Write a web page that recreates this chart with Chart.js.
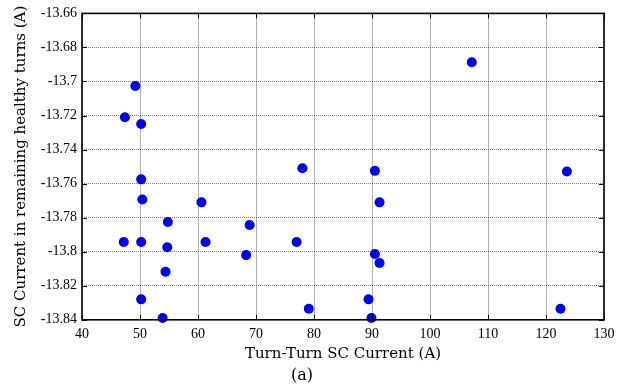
<!DOCTYPE html>
<html>
<head>
<meta charset="utf-8">
<script src="https://cdn.jsdelivr.net/npm/chart.js@4/dist/chart.umd.min.js"></script>
<style>
html,body{margin:0;padding:0;background:#fff;}
#wrap{width:639px;height:389px;position:relative;}
</style>
</head>
<body>
<div id="wrap"><canvas id="c" width="639" height="389"></canvas></div>
<script>
// Data
const turnTurnCurrent = [49.2, 47.4, 50.2, 50.2, 50.4, 47.2, 50.2, 54.8, 54.7, 54.4, 50.2, 53.9, 60.6, 61.3, 68.9, 68.3, 77.0, 78.0, 79.1, 90.5, 91.3, 90.5, 91.3, 89.4, 89.9, 107.2, 123.6, 122.5];
const healthyTurnsCurrent = [-13.7026, -13.721, -13.725, -13.7575, -13.7693, -13.7943, -13.7943, -13.7825, -13.7974, -13.8118, -13.828, -13.8389, -13.771, -13.7943, -13.7843, -13.802, -13.7943, -13.751, -13.8335, -13.7525, -13.771, -13.8013, -13.8066, -13.828, -13.8389, -13.6887, -13.7529, -13.8335];
const xTicks = [40, 50, 60, 70, 80, 90, 100, 110, 120, 130];
const yTicks = [-13.84, -13.82, -13.8, -13.78, -13.76, -13.74, -13.72, -13.7, -13.68, -13.66];
const xTitle = 'Turn-Turn SC Current (A)';
const yTitle = 'SC Current in remaining healthy turns (A)';
const caption = '(a)';

const points = turnTurnCurrent.map((x, i) => ({x: x, y: healthyTurnsCurrent[i]}));

const frame = {
  id: 'frame',
  afterDatasetsDraw(chart) {
    const {ctx, chartArea: a, scales} = chart;
    const L = 5;
    ctx.save();
    ctx.strokeStyle = '#000';
    ctx.lineWidth = 1;
    ctx.beginPath();
    xTicks.forEach(v => {
      const px = Math.round(scales.x.getPixelForValue(v)) + 0.5;
      ctx.moveTo(px, a.bottom); ctx.lineTo(px, a.bottom - L);
      ctx.moveTo(px, a.top); ctx.lineTo(px, a.top + L);
    });
    yTicks.forEach(v => {
      const py = Math.round(scales.y.getPixelForValue(v)) + 0.5;
      ctx.moveTo(a.left, py); ctx.lineTo(a.left + L, py);
      ctx.moveTo(a.right, py); ctx.lineTo(a.right - L, py);
    });
    ctx.stroke();
    ctx.lineWidth = 1.6;
    ctx.strokeRect(a.left, a.top, a.right - a.left, a.bottom - a.top);
    ctx.restore();
  }
};

new Chart(document.getElementById('c'), {
  type: 'scatter',
  data: {
    datasets: [{
      data: points,
      backgroundColor: '#0000ff',
      borderColor: '#0000ff',
      borderWidth: 0,
      pointRadius: 5,
      pointHoverRadius: 5,
      clip: false
    }]
  },
  options: {
    responsive: false,
    animation: false,
    devicePixelRatio: 1,
    layout: {padding: {left: 0, right: 35, top: 13, bottom: 0}},
    plugins: {
      legend: {display: false},
      tooltip: {enabled: false},
      title: {
        display: true,
        text: caption,
        position: 'bottom',
        color: '#000',
        font: {family: 'DejaVu Serif', size: 16, weight: 'normal'},
        padding: {top: 0, bottom: 4}
      }
    },
    scales: {
      x: {
        type: 'linear',
        min: 40, max: 130,
        afterBuildTicks: s => { s.ticks = xTicks.map(v => ({value: v})); },
        afterFit: s => { s.height = 46; },
        grid: {color: 'rgba(0,0,0,0.6)', lineWidth: 1, drawTicks: false},
        border: {display: false, dash: [1, 1]},
        ticks: {
          padding: 6,
          color: '#000',
          font: {family: 'Liberation Serif', size: 14},
          maxRotation: 0,
          callback: v => String(v)
        },
        title: {
          display: true, text: xTitle, color: '#000',
          font: {family: 'DejaVu Serif', size: 15},
          padding: {top: 2, bottom: 3}
        }
      },
      y: {
        type: 'linear',
        min: -13.84, max: -13.66,
        afterBuildTicks: s => { s.ticks = yTicks.map(v => ({value: v})); },
        afterFit: s => { s.width = 82; },
        grid: {color: 'rgba(0,0,0,0.5)', lineWidth: 1, drawTicks: false},
        border: {display: false, dash: [1, 1]},
        ticks: {
          padding: 5,
          color: '#000',
          font: {family: 'Liberation Serif', size: 14},
          callback: v => String(parseFloat(Number(v).toFixed(2)))
        },
        title: {
          display: true, text: yTitle, color: '#000',
          font: {family: 'DejaVu Serif', size: 15},
          padding: {top: 12, bottom: 0}
        }
      }
    }
  },
  plugins: [frame]
});
</script>
</body>
</html>
